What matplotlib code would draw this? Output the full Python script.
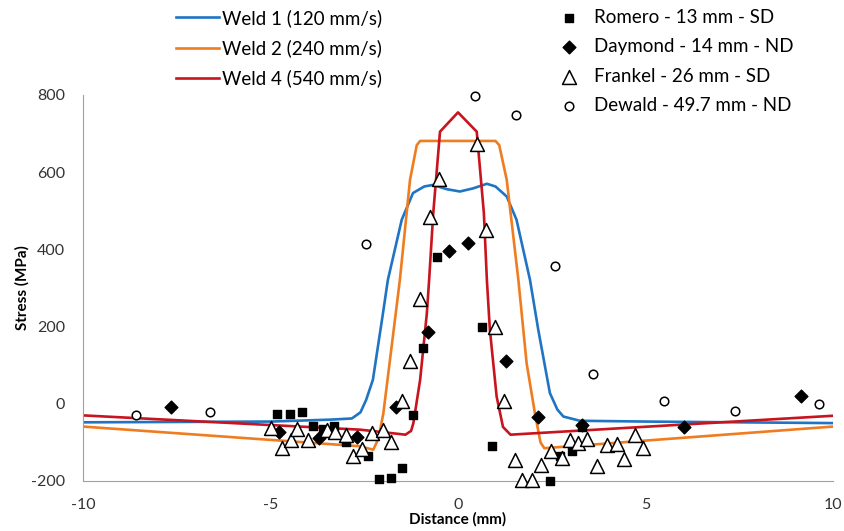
import matplotlib
matplotlib.use("Agg")
import matplotlib.pyplot as plt

plt.rcParams['font.family'] = ['Lato', 'DejaVu Sans']
plt.rcParams['axes.unicode_minus'] = False

## Model curves (distance in mm, stress in MPa)
weld1_x = [-10, -5, -3.4, -2.83, -2.6, -2.45, -2.27, -2.0, -1.87, -1.5, -1.2, -0.9, -0.67, -0.3, 0.05, 0.4, 0.77, 1.0, 1.3, 1.56, 1.92, 2.14, 2.45, 2.65, 2.81, 3.25, 5, 10]
weld1_y = [-48, -46, -41, -38, -22, 10, 62, 235, 321, 477, 546, 563, 567, 556, 550, 558, 570, 563, 537, 477, 321, 192, 28, -15, -33, -44, -46, -50]

weld2_x = [-10, -2.61, -2.26, -2.12, -1.99, -1.77, -1.55, -1.28, -1.1, -1.01, 0, 1.0, 1.1, 1.3, 1.61, 1.83, 2.05, 2.2, 2.3, 10]
weld2_y = [-59, -110, -119, -90, -24, 148, 321, 580, 670, 681, 681, 681, 670, 580, 321, 105, -24, -100, -115, -59]

weld4_x = [-10, -2.61, -1.4, -1.25, -1.19, -1.01, -0.83, -0.77, -0.66, -0.48, 0.0, 0.5, 0.69, 0.77, 0.85, 1.03, 1.2, 1.4, 10]
weld4_y = [-30, -67, -80, -70, -50, 62, 235, 321, 494, 705, 755, 705, 494, 321, 192, 19, -60, -80, -31]

## Measured data
romero_x = [-4.82, -4.48, -4.17, -3.88, -3.59, -3.3, -3.0, -2.39, -2.1, -1.79, -1.5, -1.21, -0.94, -0.57, 0.65, 0.92, 2.45, 2.72, 3.03, 3.3]
romero_y = [-26, -26, -20, -57, -66, -57, -98, -134, -195, -191, -167, -28, 144, 380, 198, -110, -199, -135, -122, -60]

daymond_x = [-7.65, -4.77, -3.72, -2.7, -1.65, -0.79, -0.24, 0.26, 1.28, 2.14, 3.3, 6.03, 9.14]
daymond_y = [-7, -73, -89, -85, -9, 185, 396, 416, 112, -35, -55, -59, 19]

frankel_x = [-5.0, -4.7, -4.46, -4.29, -4.01, -3.5, -3.28, -3.0, -2.79, -2.57, -2.29, -1.99, -1.79, -1.5, -1.27, -1.0,
             -0.75, -0.5, 0.5, 0.74, 1.0, 1.24, 1.52, 1.7, 1.98, 2.21, 2.48, 2.77, 2.99, 3.21, 3.45, 3.7, 3.97, 4.23, 4.44, 4.72, 4.94]
frankel_y = [-63, -115, -93, -66, -93, -69, -73, -80, -135, -117, -76, -67, -98, 6, 111, 272,
             484, 582, 673, 449, 198, 6, -145, -197, -197, -158, -122, -141, -95, -102, -91, -162, -106, -104, -143, -82, -115]

dewald_x = [-8.59, -6.61, -2.44, 0.45, 1.55, 2.59, 3.61, 5.5, 7.4, 9.63]
dewald_y = [-30, -22, 414, 798, 749, 358, 77, 8, -18, 0]

fig = plt.figure(figsize=(8.45, 5.31), dpi=100)
ax = fig.add_axes([83/845, 1-481/531, 750/845, 386/531])

l1, = ax.plot(weld1_x, weld1_y, color='#1F74C4', lw=1.9, label='Weld 1 (120 mm/s)')
l2, = ax.plot(weld2_x, weld2_y, color='#F07C20', lw=1.9, label='Weld 2 (240 mm/s)')
l3, = ax.plot(weld4_x, weld4_y, color='#C8141E', lw=1.9, label='Weld 4 (540 mm/s)')

s1 = ax.scatter(romero_x, romero_y, marker='s', s=40, color='black', zorder=3, clip_on=False, label='Romero - 13 mm - SD')
s2 = ax.scatter(daymond_x, daymond_y, marker='D', s=42, color='black', zorder=3, clip_on=False, label='Daymond - 14 mm - ND')
s3 = ax.scatter(frankel_x, frankel_y, marker='^', s=100, facecolors='white', edgecolors='black', linewidths=1.1,
                zorder=3, clip_on=False, label='Frankel - 26 mm - SD')
s4 = ax.scatter(dewald_x, dewald_y, marker='o', s=38, facecolors='white', edgecolors='black', linewidths=1.1,
                zorder=4, clip_on=False, label='Dewald - 49.7 mm - ND')

ax.set_xlim(-10, 10)
ax.set_ylim(-200, 800)
ax.set_xticks([-10, -5, 0, 5, 10])
ax.set_yticks([-200, 0, 200, 400, 600, 800])
ax.tick_params(length=0, labelsize=11.5, colors='#333333')
ax.tick_params(axis='y', pad=13)
ax.tick_params(axis='x', pad=12)
for side in ['top', 'right']:
    ax.spines[side].set_visible(False)
for side in ['left', 'bottom']:
    ax.spines[side].set_color('#A0A0A0')

ax.set_xlabel('Distance (mm)', fontsize=11, fontweight='bold', labelpad=0)
ax.set_ylabel('Stress (MPa)', fontsize=11, fontweight='bold', labelpad=1)

leg1 = ax.legend(handles=[l1, l2, l3], loc='upper left', bbox_to_anchor=(176/845, 1-9/531),
                 bbox_transform=fig.transFigure, frameon=False, fontsize=13.5, handlelength=2.3,
                 handletextpad=0.15, labelspacing=0.66, borderpad=0, borderaxespad=0)
ax.add_artist(leg1)
ax.legend(handles=[s1, s2, s3, s4], loc='upper left', bbox_to_anchor=(561/845, 1-9/531),
          bbox_transform=fig.transFigure, frameon=False, fontsize=13.5, handlelength=0.9,
          handletextpad=0.85, labelspacing=0.66, borderpad=0, borderaxespad=0, scatterpoints=1)

fig.savefig('out.png', dpi=100)
